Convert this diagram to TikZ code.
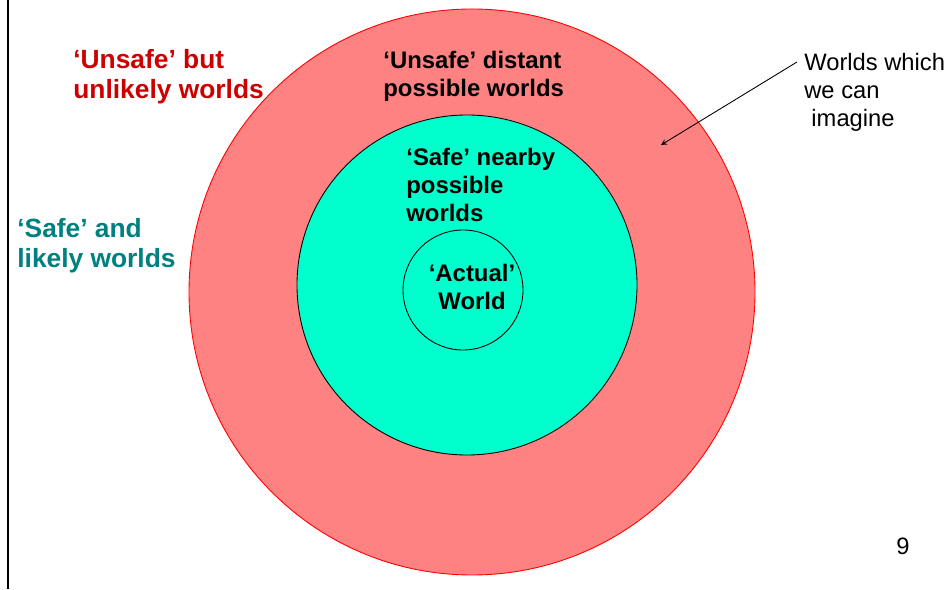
\documentclass[tikz,border=0pt]{standalone}
\usepackage{fontspec}
\setmainfont{Liberation Sans}
\usepackage{xcolor}
\definecolor{wldRed}{HTML}{FF8282}
\definecolor{wldCyan}{HTML}{00FFCC}
\definecolor{wldDarkRed}{HTML}{CC0000}
\definecolor{wldTeal}{HTML}{008080}
\usepackage{tikz}
\usetikzlibrary{calc}

\tikzset{
  bigtext/.style={inner sep=0pt, align=left, font=\fontsize{15}{17.2}\selectfont\bfseries},
  ringtext/.style={inner sep=0pt, align=left, font=\fontsize{13.6}{16.2}\selectfont\bfseries},
  smalltext/.style={inner sep=0pt, align=left, font=\fontsize{13.5}{16.2}\selectfont}
}

\begin{document}
\begin{tikzpicture}[>=stealth]
  \useasboundingbox (0,0) rectangle (19,11.78);
  % slide edge
  \draw[line width=1.1pt] (0.16,0) -- (0.16,11.78);
  % the three rings of worlds
  \fill[wldRed, draw=red, line width=0.5pt] (9.44,5.94) circle (5.66);
  \fill[wldCyan, draw=black, line width=0.5pt] (9.34,6.08) circle (3.4);
  \draw[line width=0.5pt] (9.26,5.98) circle (1.2);
  % labels inside (anchored at the last line)
  \node[ringtext, anchor=base west] (distant) at (7.66,9.84) {`Unsafe' distant\\possible worlds};
  \node[ringtext, anchor=base west] (nearby) at (8.12,7.34) {`Safe' nearby\\possible\\worlds};
  \node[ringtext, align=center, anchor=base] (actual) at (9.44,5.58) {`Actual'\\World};
  % labels outside
  \node[bigtext, text=wldDarkRed, anchor=base west] (unlikely) at (1.46,9.80) {`Unsafe' but\\unlikely worlds};
  \node[bigtext, text=wldTeal, anchor=base west] (likely) at (0.34,6.42) {`Safe' and\\likely worlds};
  \node[smalltext, anchor=base west] (imagine) at (16.08,9.24) {Worlds which\\we can\\\hspace{0.3em}imagine};
  \coordinate (ringpoint) at (13.22,8.88);
  \draw[->, line width=0.5pt] ($(imagine.base west)+(-0.14,1.30)$) -- (ringpoint);
  % page number
  \node[smalltext, anchor=base] (pagenum) at (18.06,0.68) {9};
\end{tikzpicture}
\end{document}
